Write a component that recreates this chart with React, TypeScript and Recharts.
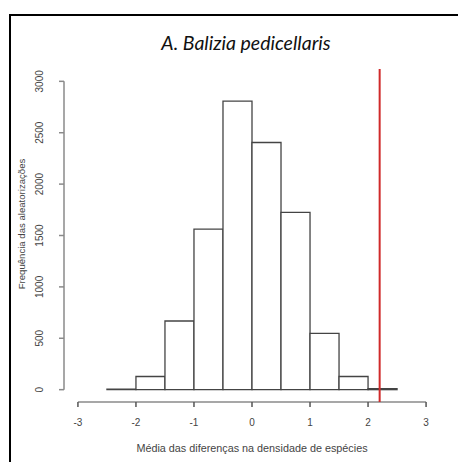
import React from 'react';
import { ComposedChart, XAxis, YAxis, ReferenceArea, ReferenceLine, Line } from 'recharts';

// histogram of the randomised mean differences (bin edges and counts per bin)
const binEdges = [-2.5, -2, -1.5, -1, -0.5, 0, 0.5, 1, 1.5, 2, 2.5];
const binCounts = [5, 128, 668, 1562, 2808, 2405, 1725, 548, 128, 10];
const xTicks = [-3, -2, -1, 0, 1, 2, 3];
const yTicks = [0, 500, 1000, 1500, 2000, 2500, 3000];
const observedMean = 2.2;

// R-style plot region: axis range padded by 4% on each side
const xDomain: [number, number] = [-3.24, 3.24];
const yDomain: [number, number] = [-120, 3120];

const bins = binCounts.map((count, i) => ({
  x0: binEdges[i],
  x1: binEdges[i + 1],
  mid: (binEdges[i] + binEdges[i + 1]) / 2,
  count,
}));

const FONT = '"Liberation Sans", Arial, sans-serif';
const AXIS_GREY = '#8a8a8a';

const YTick = (props: any) => {
  const { x, y, payload } = props;
  const tx = x - 14;
  return (
    <text
      x={tx}
      y={y}
      transform={`rotate(-90, ${tx}, ${y})`}
      textAnchor="middle"
      fontSize={10}
      fontFamily={FONT}
      fill="#444"
    >
      {payload.value}
    </text>
  );
};

export default function App() {
  return (
    <div style={{ position: 'absolute', left: 0, top: 0, width: 458, height: 462, background: '#fff', overflow: 'hidden' }}>
      {/* outer frame, only top and left edges fall inside the image */}
      <div
        style={{
          position: 'absolute',
          left: 9,
          top: 14,
          width: 600,
          height: 600,
          borderTop: '2px solid #000',
          borderLeft: '2px solid #000',
        }}
      />
      <div style={{ position: 'absolute', left: 0, top: 0 }}>
        <ComposedChart
          width={458}
          height={462}
          data={bins}
          margin={{ top: 69, right: 18, bottom: 0, left: 0 }}
        >
          <XAxis
            type="number"
            dataKey="mid"
            domain={xDomain}
            ticks={xTicks}
            allowDataOverflow
            axisLine={false}
            tickLine={{ stroke: '#555', strokeWidth: 1.5 }}
            tickSize={5}
            tickMargin={12}
            height={60}
            tick={{ fontSize: 10, fontFamily: FONT, fill: '#444' }}
          />
          <YAxis
            type="number"
            domain={yDomain}
            ticks={yTicks}
            allowDataOverflow
            axisLine={false}
            tickLine={{ stroke: AXIS_GREY, strokeWidth: 1.5 }}
            tickSize={5}
            width={64}
            tick={<YTick />}
          />

          {/* axis lines run only between the outer ticks */}
          <ReferenceLine
            segment={[{ x: xTicks[0], y: yDomain[0] }, { x: xTicks[xTicks.length - 1], y: yDomain[0] }]}
            stroke={AXIS_GREY}
            strokeWidth={1.5}
          />
          <ReferenceLine
            segment={[{ x: xDomain[0], y: yTicks[0] }, { x: xDomain[0], y: yTicks[yTicks.length - 1] }]}
            stroke={AXIS_GREY}
            strokeWidth={1.5}
          />

          {bins.map((b) => (
            <ReferenceArea
              key={b.x0}
              x1={b.x0}
              x2={b.x1}
              y1={0}
              y2={b.count}
              fill="#fff"
              fillOpacity={1}
              stroke="#444"
              strokeWidth={1.3}
            />
          ))}

          <Line dataKey="count" stroke="none" dot={false} activeDot={false} isAnimationActive={false} />

          <ReferenceLine x={observedMean} stroke="#d02a2a" strokeWidth={2} />

          <text x={246} y={50} textAnchor="middle" fontSize={19.5} fontStyle="italic" fontFamily="Lato, sans-serif" fill="#111">
            A. Balizia pedicellaris
          </text>
          <text x={252} y={452} textAnchor="middle" fontSize={10.8} fontFamily={FONT} fill="#444">
            Média das diferenças na densidade de espécies
          </text>
          <text
            x={25}
            y={224}
            transform="rotate(-90, 25, 224)"
            textAnchor="middle"
            fontSize={9.6}
            fontFamily={FONT}
            fill="#444"
          >
            Frequência das aleatorizações
          </text>
        </ComposedChart>
      </div>
    </div>
  );
}
